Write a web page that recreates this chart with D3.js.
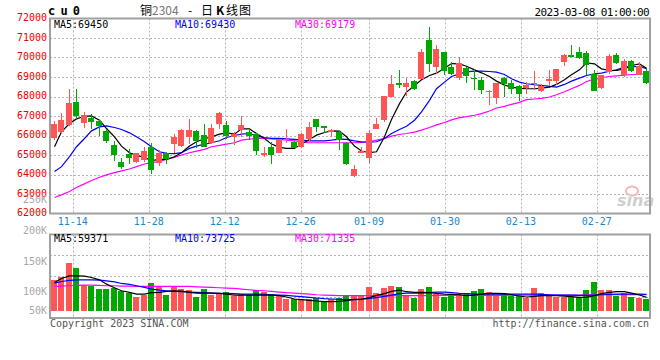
<!DOCTYPE html>
<html><head><meta charset="utf-8">
<script src="https://cdn.jsdelivr.net/npm/d3@7"></script>
<style>
body{margin:0;background:#fff}
svg{display:block}
text{font-family:"DejaVu Sans Mono","Liberation Mono",monospace;font-size:10px}
</style>
</head><body>
<svg id="chart" width="660" height="360"></svg>
<script>
// ---------- data ----------
const dates = ["11-09","11-10","11-11","11-14","11-15","11-16","11-17","11-18","11-21","11-22","11-23","11-24","11-25",
"11-28","11-29","11-30","12-01","12-02","12-05","12-06","12-07","12-08","12-09","12-12","12-13","12-14","12-15","12-16",
"12-19","12-20","12-21","12-22","12-23","12-26","12-27","12-28","12-29","12-30","01-03","01-04","01-05","01-06",
"01-09","01-10","01-11","01-12","01-13","01-16","01-17","01-18","01-19","01-20","01-30","01-31","02-01","02-02","02-03",
"02-06","02-07","02-08","02-09","02-10","02-13","02-14","02-15","02-16","02-17","02-20","02-21","02-22","02-23","02-24",
"02-27","02-28","03-01","03-02","03-03","03-06","03-07","03-08"];
const open = [65848,66188,66528,67701,66647,66902,66732,66222,65508,64641,
65066,64658,64743,65389,64607,65117,65559,65457,65933,66222,
66018,65627,66613,66562,65933,66273,66188,66069,64998,65423,
65117,65763,65678,65389,65812,66834,66477,66169,66188,65627,
63927,65117,64862,66324,66817,67973,68686,68482,68771,68873,
70914,69502,70267,69502,68958,69469,68941,68856,68244,67920,
68941,68686,68533,68431,68618,68278,68771,68788,69758,70149,
70267,70217,69162,68431,69281,70149,69077,69843,69111,69298];
const close = [66579,66783,67667,67004,67038,66698,66477,65712,64998,64369,
64862,65083,65219,64233,65117,64811,65933,66307,66273,65729,
65423,66409,67157,65967,66069,66528,65967,65219,65117,64998,
65812,65812,65372,66069,66443,66443,66392,66273,65763,64539,
64284,65219,66137,66579,68007,68653,68601,68686,68363,70301,
69672,70437,69332,69162,69707,69044,68873,68312,68278,68686,
68618,68397,68108,68601,68686,68533,68873,69417,70132,70047,
69962,69622,68278,69077,70098,69724,69843,69298,69587,68703];
const high = [66732,67157,68398,68364,67191,67123,66817,66358,65729,64828,
65287,65117,65423,65627,65253,65168,66052,66358,66868,66273,
66579,66579,67208,66749,66188,66987,66358,66103,65423,65678,
65846,66358,65729,66103,66698,66834,66511,66324,66222,65678,
64488,65389,66273,66902,68007,69077,69366,68958,68856,70437,
71543,70659,70302,69757,70013,69502,69417,68992,68346,68686,
68992,68822,68567,68737,69298,68652,69383,69417,70183,70659,
70523,70319,69366,69077,70183,70234,69927,69876,69757,69469];
const low = [65763,66052,66477,66868,66409,66324,65984,65627,64709,64267,
64539,64607,64658,64012,64437,64539,65117,65423,65559,65338,
65389,65559,66358,65797,65508,65933,65763,64998,64913,64539,
65083,65627,65338,65338,65729,66188,66137,65933,65253,64488,
63859,65083,64607,66324,66698,67973,68431,68007,68312,68873,
69248,69162,69128,69128,68856,68686,68312,68142,67546,67631,
67973,68108,67751,68108,68312,68227,68533,68568,69588,70013,
69928,69128,68278,68397,69162,69672,68992,69248,69077,68652];
const ma5 = [65423,66188,66613,66851,66987,67004,66783,66358,65933,65457,
65117,64981,64879,64709,64777,64777,64913,65117,65457,65678,
65831,65933,66069,66137,66069,66341,66341,66103,65848,65559,
65389,65338,65338,65559,65797,66018,66154,66239,66222,65933,
65457,65202,65117,65168,65933,66817,67633,68228,68568,68857,
69078,69197,69452,69690,69673,69554,69367,69214,69027,68789,
68585,68483,68415,68398,68398,68432,68483,68619,68857,69112,
69367,69724,69673,69418,69333,69333,69418,69588,69673,69450];
const ma10 = [64148,64403,64913,65423,65848,66239,66443,66494,66409,66307,
66137,65933,65678,65423,65168,65083,65066,65117,65338,65457,
65559,65627,65729,65899,66001,66069,66103,65967,65899,65848,
65848,65831,65797,65763,65729,65729,65729,65763,65814,65797,
65729,65678,65661,65678,65848,66103,66307,66477,66783,67208,
67803,68398,68738,69027,69163,69265,69299,69299,69282,69248,
69129,68908,68738,68653,68602,68568,68517,68483,68619,68789,
68942,69078,69163,69197,69299,69367,69503,69537,69537,69430];
const ma30 = [62822,62958,63128,63332,63519,63689,63859,63978,64097,64182,
64284,64403,64539,64607,64675,64777,64879,64998,65117,65202,
65287,65423,65491,65559,65627,65763,65814,65848,65848,65831,
65797,65763,65729,65661,65627,65627,65627,65627,65627,65627,
65627,65644,65678,65763,65848,65967,66052,66103,66171,66273,
66409,66545,66664,66800,66919,66970,67038,67123,67259,67412,
67497,67599,67701,67837,67871,67905,67973,68092,68245,68398,
68568,68772,68891,68976,69027,69061,69095,69129,69129,69179];
// volume, thousands of lots
const volume = [117.3,123.7,145.2,138.2,110.0,107.6,103.5,103.5,104.4,100.3,
96.8,90.6,93.9,112.9,106.8,93.1,106.8,102.7,101.1,90.6,
102.7,93.9,95.5,97.9,91.5,95.8,93.1,101.1,97.9,95.8,
93.1,87.1,87.1,86.1,86.6,89.4,83.4,86.6,88.2,91.5,
92.6,93.5,106.0,96.8,104.4,107.6,106.0,92.6,88.2,102.7,
106.0,95.8,89.8,95.2,95.2,96.3,99.5,102.7,97.9,95.2,
95.2,92.6,92.6,88.2,104.4,96.3,93.5,89.8,89.8,89.8,
89.8,101.6,114.0,101.6,101.6,91.5,96.8,89.8,88.2,87.1];
const vma5 = [114.0,120.5,124.8,124.8,124.2,122.1,118.3,111.3,105.4,100.6,
97.9,95.2,95.2,97.4,97.9,99.5,100.6,100.1,97.9,96.8,
96.8,96.8,96.3,95.2,93.6,93.6,93.6,93.6,93.6,93.6,
92.5,90.4,87.2,86.1,85.0,83.9,82.8,82.8,83.4,84.5,
86.6,87.2,89.3,93.1,95.8,99.5,101.7,99.0,97.9,97.9,
97.4,96.3,95.2,94.7,94.1,92.5,93.6,95.2,96.3,96.3,
95.8,94.1,92.0,90.4,91.5,92.5,92.5,92.5,92.0,90.9,
89.8,89.8,92.5,95.8,97.9,99.0,99.0,96.8,93.6,89.8];
const vma10 = [113.0,115.6,117.3,118.3,118.3,118.3,117.8,116.7,115.1,112.4,
110.8,108.7,106.0,103.3,101.7,100.6,99.5,99.0,98.4,97.9,
97.4,96.8,96.3,96.3,95.8,95.2,95.2,95.2,94.7,94.1,
93.6,93.1,92.0,90.9,89.8,88.8,87.7,87.2,86.6,86.1,
86.1,86.6,88.2,89.3,91.5,93.6,95.8,96.8,96.8,96.8,
97.4,98.4,98.4,97.4,96.3,95.8,95.2,95.2,95.2,95.2,
95.2,95.2,95.2,95.2,95.2,94.7,94.1,93.6,93.6,93.6,
93.1,93.1,93.6,94.1,94.7,95.2,95.2,95.2,95.2,94.7];
const vma30 = [107.6,108.1,108.7,109.2,109.7,109.7,109.2,108.7,108.7,108.1,
108.1,107.6,107.6,107.6,107.6,107.6,107.6,107.6,107.6,107.0,
106.5,106.0,105.4,104.9,104.4,103.3,102.2,101.1,100.6,99.5,
98.4,97.4,96.8,95.8,95.2,94.1,93.6,93.1,92.5,92.5,
92.5,92.5,92.5,92.5,92.5,92.5,92.5,92.5,92.5,92.5,
92.5,93.1,93.1,93.1,93.1,93.1,93.1,93.1,93.1,93.1,
93.1,93.6,93.6,93.6,93.6,93.6,93.6,93.6,93.6,93.6,
93.6,94.1,94.1,94.1,94.1,94.1,94.1,94.1,94.1,94.1];
const xTickLabels = ["11-14","11-28","12-12","12-26","01-09","01-30","02-13","02-27"];
const priceTicks = [62000,63000,64000,65000,66000,67000,68000,69000,70000,71000,72000];
const volTicks = [50,100,150,200,250];
const priceLegend = [["MA5:69450","#000"],["MA10:69430","#0000ff"],["MA30:69179","#ff00ff"]];
const volLegend = [["MA5:59371","#000"],["MA10:73725","#0000ff"],["MA30:71335","#ff00ff"]];

// ---------- layout ----------
const X0=50, X1=650, PT=18.5, PB=213.5, VT=234.5, VB=318, VBASE=311;
const RED="#ff5555", GREEN="#00a800", GRID="#b4b4b4", FRAME="#a0a0a0";
const svg = d3.select("#chart");
const x = d3.scaleBand().domain(dates).range([X0,X1]).paddingInner(0.2).paddingOuter(0.1);
const gx = d3.scaleLinear().domain([0,dates.length-1]).range([X0,X1]);
const y = d3.scaleLinear().domain([62000,72000]).range([PB,PT]);
const yv = d3.scaleLinear().domain([0,250]).range([352.7,198.7]);
const bw = Math.round(x.bandwidth());
const left = i => Math.round(x(dates[i]));
const cx = i => left(i)+3;
const idx = d3.range(dates.length);

// grids
const g = svg.append("g");
g.selectAll(".hg").data(priceTicks.filter(t=>t>62000 && t<72000)).join("line")
  .attr("x1",X0).attr("x2",X1).attr("y1",d=>Math.round(y(d))+0.5).attr("y2",d=>Math.round(y(d))+0.5)
  .attr("stroke",GRID).attr("stroke-dasharray","2,2");
const vq = [0.25,0.5,0.75].map(f=>VT+(VB-VT)*f);
g.selectAll(".vhg").data(vq).join("line")
  .attr("x1",X0).attr("x2",X1).attr("y1",d=>Math.round(d)+0.5).attr("y2",d=>Math.round(d)+0.5)
  .attr("stroke",GRID).attr("stroke-dasharray","2,2");
const tickIdx = xTickLabels.map(l=>dates.indexOf(l));
[[PT,PB],[VT,VB]].forEach(([a,b])=>{
  g.selectAll(null).data(tickIdx).join("line")
   .attr("x1",d=>Math.round(gx(d))+0.5).attr("x2",d=>Math.round(gx(d))+0.5)
   .attr("y1",a).attr("y2",b).attr("stroke",GRID).attr("stroke-dasharray","2,2");
});

// watermark
const wm = svg.append("g");
wm.append("ellipse").attr("cx",632).attr("cy",191).attr("rx",6).attr("ry",4.5).attr("fill","none")
  .attr("stroke","#f2b8b8").attr("stroke-width",2);
wm.append("text").attr("x",617).attr("y",206).attr("fill","#cfcfcf")
  .style("font-family","DejaVu Sans").style("font-size","16px").style("font-weight","bold").style("font-style","italic").text("sina");

// price MA lines
const line = (arr,sc) => d3.line().x((d,i)=>cx(i)+0.5).y(d=>sc(d))(arr);
[[ma30,"#ff00ff"],[ma10,"#0000ff"],[ma5,"#000"]].forEach(([a,c])=>{
  svg.append("path").attr("d",line(a,y)).attr("fill","none").attr("stroke",c).attr("stroke-width",1.2);
});

// candles
const cg = svg.append("g").attr("shape-rendering","crispEdges");
cg.selectAll(".w").data(idx).join("rect")
  .attr("x",i=>cx(i)).attr("width",1)
  .attr("y",i=>Math.round(y(high[i]))).attr("height",i=>Math.max(1,Math.round(y(low[i]))-Math.round(y(high[i]))))
  .attr("fill",i=>close[i]>=open[i]?RED:GREEN);
cg.selectAll(".b").data(idx).join("rect")
  .attr("x",i=>left(i)).attr("width",bw)
  .attr("y",i=>Math.round(y(Math.max(open[i],close[i]))))
  .attr("height",i=>Math.max(1,Math.round(y(Math.min(open[i],close[i])))-Math.round(y(Math.max(open[i],close[i])))))
  .attr("fill",i=>close[i]>=open[i]?RED:GREEN);

// volume bars
cg.selectAll(".v").data(idx).join("rect")
  .attr("x",i=>left(i)).attr("width",bw)
  .attr("y",i=>Math.round(yv(volume[i]))).attr("height",i=>VBASE-Math.round(yv(volume[i])))
  .attr("fill",i=>close[i]>=open[i]?RED:GREEN);
[[vma30,"#ff00ff"],[vma10,"#0000ff"],[vma5,"#000"]].forEach(([a,c])=>{
  svg.append("path").attr("d",line(a,yv)).attr("fill","none").attr("stroke",c).attr("stroke-width",1.2);
});

// frames
svg.append("rect").attr("x",X0).attr("y",PT).attr("width",X1-X0).attr("height",PB-PT)
  .attr("fill","none").attr("stroke",FRAME).attr("stroke-width",2);
svg.append("rect").attr("x",X0).attr("y",VT).attr("width",X1-X0).attr("height",VB-VT)
  .attr("fill","none").attr("stroke",FRAME).attr("stroke-width",2);

// axis labels
svg.selectAll(".yl").data(priceTicks).join("text")
  .attr("x",47).attr("y",d=>y(d)-1).attr("dy","0.35em").attr("text-anchor","end")
  .attr("fill","#ee0000").text(d=>d);
svg.selectAll(".vl").data(volTicks).join("text")
  .attr("x",47).attr("y",d=>Math.min(yv(d)+0.8,310.5)).attr("dy","0.35em").attr("text-anchor","end")
  .attr("fill","#a8a8a8").text(d=>d+"K");
svg.selectAll(".xl").data(xTickLabels).join("text")
  .attr("x",d=>gx(dates.indexOf(d))).attr("y",221.5).attr("dy","0.35em").attr("text-anchor","middle")
  .attr("fill","#1a88cc").text(d=>d);

// legends
const lx = [54,175,295];
svg.selectAll(".pl").data(priceLegend).join("text")
  .attr("x",(d,i)=>lx[i]).attr("y",24).attr("dy","0.35em").attr("fill",d=>d[1]).text(d=>d[0]);
svg.selectAll(".vl2").data(volLegend).join("text")
  .attr("x",(d,i)=>lx[i]).attr("y",238.5).attr("dy","0.35em").attr("fill",d=>d[1]).text(d=>d[0]);

// header
svg.append("text").attr("x",48).attr("y",15).attr("textLength",32).attr("lengthAdjust","spacing")
  .style("font-size","12px").style("font-weight","bold").text("c u 0");
const titleParts = [["铜",140,"#000","normal"],["2304",152,"#777","normal"],["-",188,"#000","normal"],
                    ["日",201,"#000","normal"],["K",216,"#000","bold"],["线",226,"#000","normal"],["图",239,"#000","normal"]];
const t = svg.append("text").attr("y",14.5)
  .style("font-family","'Noto Sans CJK SC',sans-serif").style("font-size","12px");
titleParts.forEach(([s,px,c,w])=>t.append("tspan").attr("x",px).attr("fill",c).style("font-weight",w).text(s));
svg.append("text").attr("x",649).attr("y",15.5).attr("text-anchor","end")
  .style("font-size","11px").style("letter-spacing","-0.6px").text("2023-03-08 01:00:00");

// footer
svg.append("text").attr("x",50).attr("y",327).attr("fill","#555").text("Copyright 2023 SINA.COM");
svg.append("text").attr("x",649).attr("y",327).attr("text-anchor","end").attr("fill","#555").text("http://finance.sina.com.cn");
</script>
</body></html>
